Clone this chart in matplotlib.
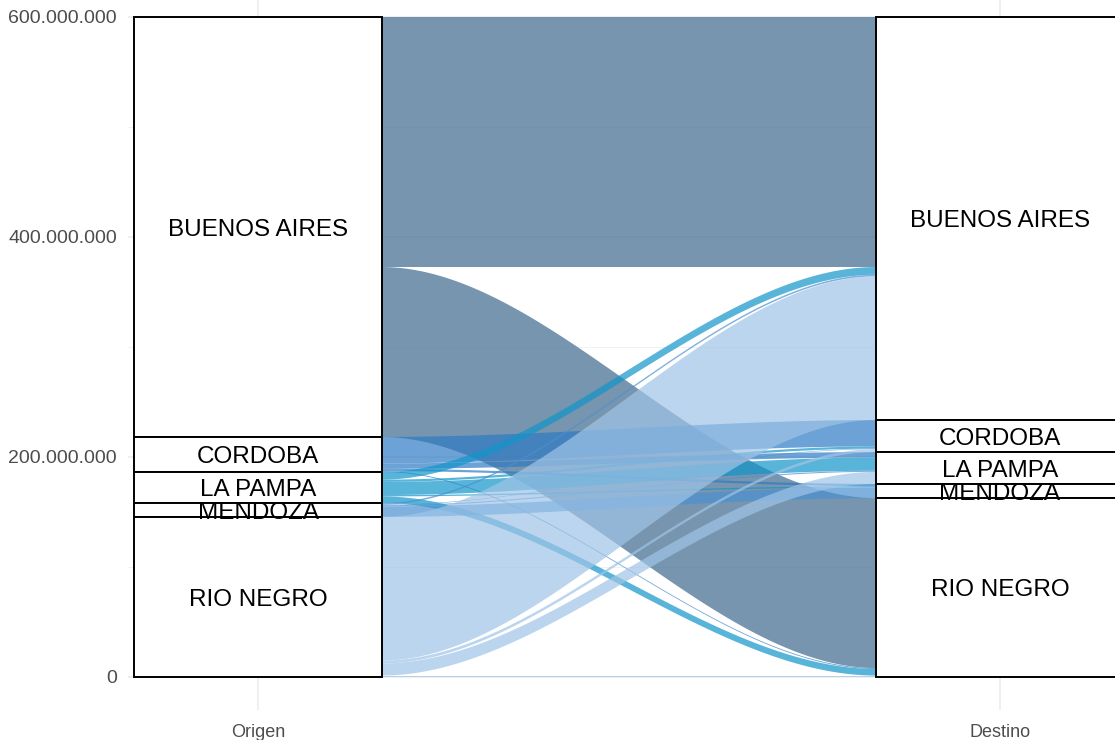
import matplotlib.pyplot as plt
import numpy as np
from matplotlib.patches import Rectangle, Polygon

plt.rcParams['font.family'] = ['Liberation Sans', 'DejaVu Sans']

# provinces, ordered top to bottom in each stratum
provincias = ["BUENOS AIRES", "CORDOBA", "LA PAMPA", "MENDOZA", "RIO NEGRO"]

# flows in millions: rows = Origen, columns = Destino
flujo_ba = [227.3, 0.0, 0.0, 0.0, 154.5]
flujo_co = [0.0, 24.0, 5.0, 2.0, 0.8]
flujo_lp = [7.0, 2.0, 12.0, 1.2, 6.0]
flujo_me = [1.5, 0.5, 1.0, 9.7, 0.0]
flujo_rn = [130.6, 2.6, 11.0, 0.0, 1.3]

colores = ["#3e698e", "#2e7bc4", "#1394ca", "#4a90d0", "#9fc4e7"]

yticks = [0, 200, 400, 600]
ejes = ["Origen", "Destino"]

matriz = np.array([flujo_ba, flujo_co, flujo_lp, flujo_me, flujo_rn])
total = matriz.sum()
tot_orig = matriz.sum(axis=1)
tot_dest = matriz.sum(axis=0)

fig = plt.figure(figsize=(11.15, 7.40), dpi=100)
W, H = 1115, 740
ax = fig.add_axes([128 / W, (H - 710) / H, (W - 128) / W, 710 / H])
ax.set_xlim(1 - 130 / 742, 1 + 857 / 742)
ax.set_ylim(-30, 615.45)

# grid (theme_minimal look)
for y in [100, 300, 500]:
    ax.axhline(y, color="#f0f0f0", lw=0.6, zorder=0)
for y in yticks:
    ax.axhline(y, color="#ebebeb", lw=1.1, zorder=0)
for x in [1, 2]:
    ax.axvline(x, color="#ebebeb", lw=1.1, zorder=0)

w = 1 / 3


def tops(totales):
    # top of each stratum, first one at the top
    t = []
    acc = total
    for v in totales:
        t.append(acc)
        acc -= v
    return t


top_o = tops(tot_orig)
top_d = tops(tot_dest)

# lode positions: left ordered by destination, right ordered by origin
pos_o = {}
for i in range(5):
    y = top_o[i]
    for j in range(5):
        pos_o[(i, j)] = (y, y - matriz[i, j])
        y -= matriz[i, j]
pos_d = {}
for j in range(5):
    y = top_d[j]
    for i in range(5):
        pos_d[(i, j)] = (y, y - matriz[i, j])
        y -= matriz[i, j]

x0, x1 = 1 + w / 2, 2 - w / 2
t = np.linspace(0, 1, 120)
s = 3 * t ** 2 - 2 * t ** 3
xs = x0 + (x1 - x0) * t
for i in range(5):
    for j in range(5):
        if matriz[i, j] <= 0:
            continue
        (a0, b0), (a1, b1) = pos_o[(i, j)], pos_d[(i, j)]
        top = a0 + (a1 - a0) * s
        bot = b0 + (b1 - b0) * s
        pts = np.vstack([np.column_stack([xs, top]),
                         np.column_stack([xs[::-1], bot[::-1]])])
        ax.add_patch(Polygon(pts, closed=True, facecolor=colores[i],
                             edgecolor="none", alpha=0.7, zorder=2))

# strata
for xc, tp, tot in [(1, top_o, tot_orig), (2, top_d, tot_dest)]:
    for k in range(5):
        ax.add_patch(Rectangle((xc - w / 2, tp[k] - tot[k]), w, tot[k],
                               facecolor="white", edgecolor="black",
                               lw=1.4, zorder=3))
        ax.text(xc, tp[k] - tot[k] / 2 - 2.5, provincias[k], ha="center",
                va="center", fontsize=17.5, color="black", zorder=4)

ax.set_yticks(yticks)
ax.set_yticklabels([f"{v * 1000000:,}".replace(",", ".") for v in yticks])
ax.set_xticks([1, 2])
ax.set_xticklabels(ejes)
ax.tick_params(axis="y", length=0, pad=8, labelsize=14, labelcolor="#4d4d4d")
ax.tick_params(axis="x", length=0, pad=10, labelsize=13, labelcolor="#4d4d4d")
for sp in ax.spines.values():
    sp.set_visible(False)

plt.savefig("out.png", dpi=100)
